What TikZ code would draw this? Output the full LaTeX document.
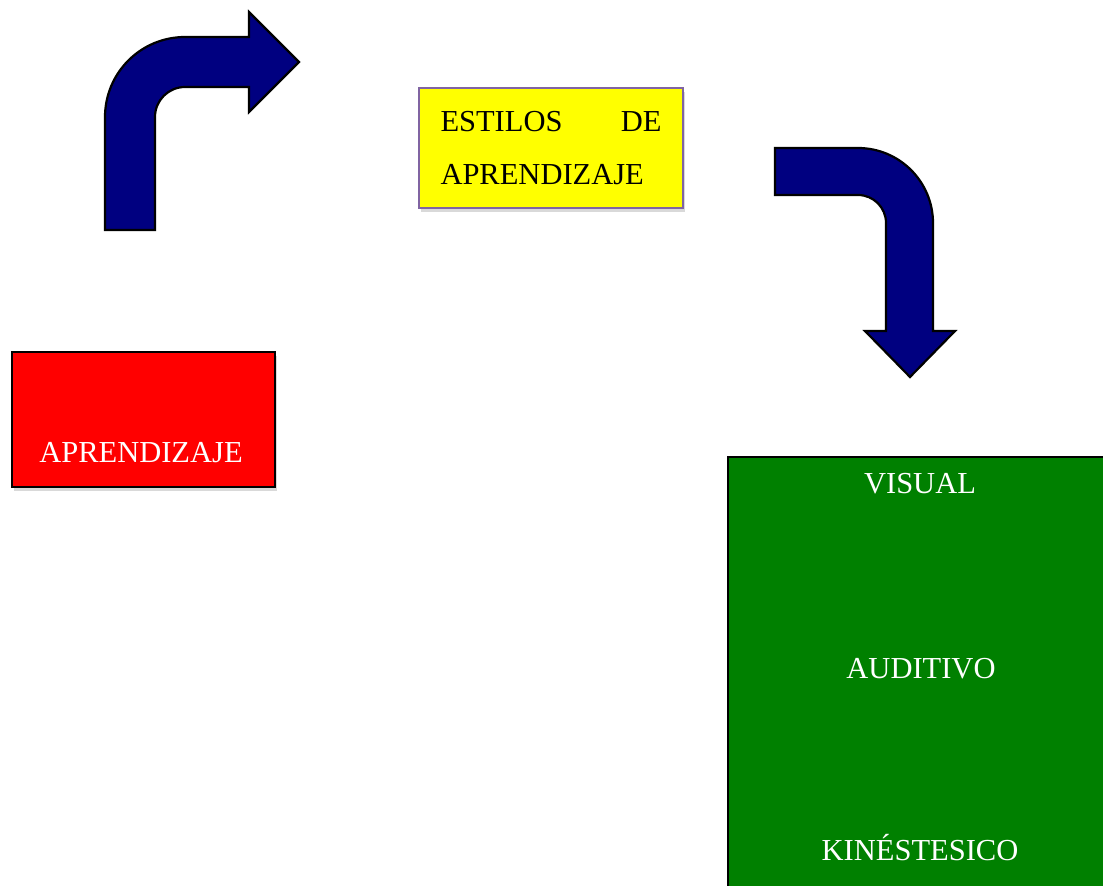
\documentclass[tikz,border=0pt]{standalone}
\usepackage{fontspec}
\setmainfont{Liberation Serif}
\usetikzlibrary{shadows}

\definecolor{navyblue}{RGB}{0,0,128}
\definecolor{boxred}{RGB}{255,0,0}
\definecolor{boxyellow}{RGB}{255,255,0}
\definecolor{boxgreen}{RGB}{0,128,0}
\definecolor{boxpurple}{RGB}{128,100,162}

\begin{document}
\begin{tikzpicture}[
    x=0.25mm, y=-0.25mm,
    every node/.style={font=\fontsize{21.7}{37.6}\selectfont},
    box/.style={rectangle, draw, inner sep=0pt, line width=0.35mm,
        drop shadow={opacity=0.3, shadow xshift=0.6mm, shadow yshift=-0.9mm}},
    boxtext/.style={anchor=base, inner sep=0pt, text=white},
    blockarrow/.style={draw=black, line width=0.55mm, fill=navyblue, line join=miter}
]

% page frame (the green box runs off the page)
\clip (0,0) rectangle (1103,886);

% Aprendizaje: bottom left
\node[box, fill=boxred, minimum width=65.75mm, minimum height=33.75mm] (apr) at (143.5,419.5) {};
\node[boxtext] (aprtxt) at (141,462) {APRENDIZAJE};

% Estilos de aprendizaje: top middle
\node[box, draw=boxpurple, fill=boxyellow, minimum width=66mm, minimum height=30mm,
      text width=55.25mm, align=left] (est) at (551,148) {ESTILOS\hfill DE\\APRENDIZAJE};

% the three styles: bottom right
\node[box, fill=boxgreen, minimum width=96mm, minimum height=113.25mm] (sty) at (920,683.5) {};
\node[boxtext] (vis) at (920,493) {VISUAL};
\node[boxtext] (aud) at (921,678) {AUDITIVO};
\node[boxtext] (kin) at (920,860) {KINÉSTESICO};

% bent arrow up and right
\draw[blockarrow] (105,230) -- (105,117) .. controls (105,72.8) and (140.8,37) .. (185,37)
    -- (249,37) -- (249,12) -- (299,62) -- (249,112) -- (249,87) -- (185,87)
    .. controls (168.4,87) and (155,100.4) .. (155,117) -- (155,230) -- cycle;

% bent arrow right and down
\draw[blockarrow] (775,148) -- (858,148) .. controls (899.4,148) and (933,181.6) .. (933,223)
    -- (933,331) -- (955,331) -- (910,377) -- (865,331) -- (886,331) -- (886,223)
    .. controls (886,207.5) and (873.5,195) .. (858,195) -- (775,195) -- cycle;

\end{tikzpicture}
\end{document}
